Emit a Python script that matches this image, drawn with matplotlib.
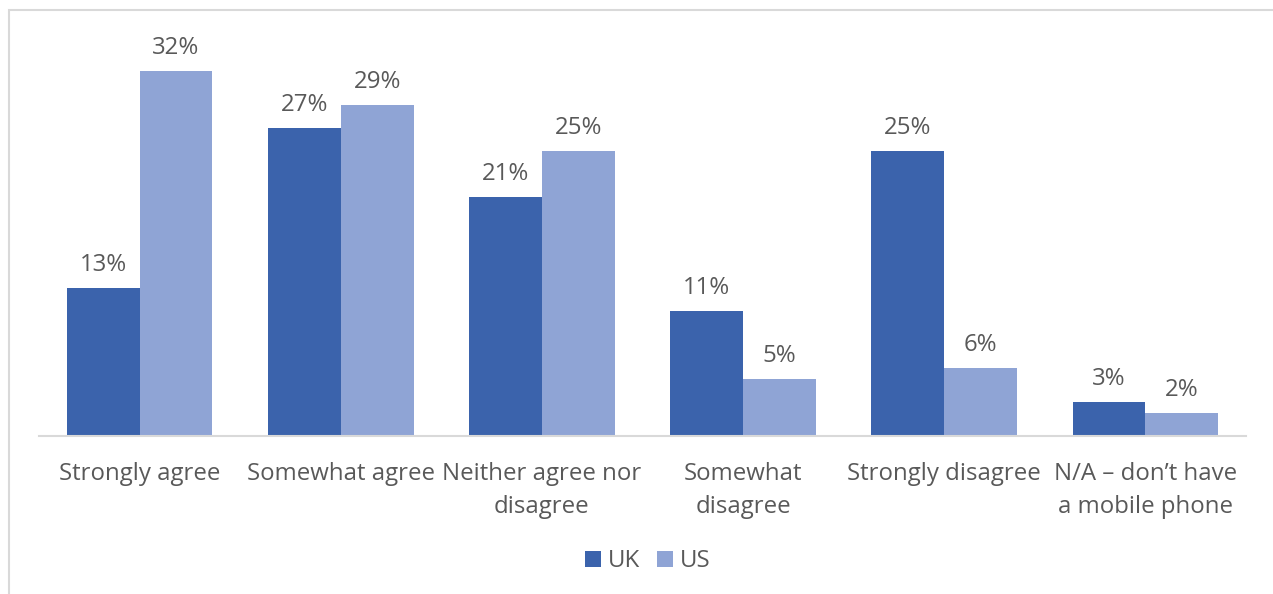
import numpy as np
import matplotlib.pyplot as plt
from matplotlib.patches import Rectangle

# ── Survey data ──
categories = ["Strongly agree", "Somewhat agree", "Neither agree nor\ndisagree",
              "Somewhat\ndisagree", "Strongly disagree", "N/A \u2013 don\u2019t have\na mobile phone"]
uk = [13, 27, 21, 11, 25, 3]
us = [32, 29, 25, 5, 6, 2]

UK_COLOR = "#3B63AC"
US_COLOR = "#8FA4D5"
TEXT_COLOR = "#595959"
FS = 17.3

plt.rcParams["font.family"] = ["Open Sans", "DejaVu Sans"]

W, H = 1273, 594
fig = plt.figure(figsize=(W / 100, H / 100), dpi=100)

# outer chart frame (only the top and left edges fall inside the canvas)
fig.patches.append(Rectangle((9 / W, -0.1), 1.2, (H - 10) / H + 0.1,
                             transform=fig.transFigure, fill=False,
                             edgecolor="#D9D9D9", lw=1.5, zorder=0))

ax = fig.add_axes([39 / W, (H - 436) / H, (1246 - 39) / W, (436 - 20) / H])

x = np.arange(len(categories))
bw = 0.362
b1 = ax.bar(x - bw / 2, uk, bw, color=UK_COLOR, label="UK")
b2 = ax.bar(x + bw / 2, us, bw, color=US_COLOR, label="US")

for bars, vals in ((b1, uk), (b2, us)):
    for b, v in zip(bars, vals):
        ax.annotate(f"{v}%", (b.get_x() + b.get_width() / 2, v),
                    xytext=(0, 8), textcoords="offset points",
                    ha="center", va="bottom", fontsize=FS, color=TEXT_COLOR)

ax.set_xlim(-0.5, len(categories) - 0.5)
ax.set_ylim(0, 36.5)
ax.set_yticks([])
ax.set_xticks(x)
ax.set_xticklabels(categories, fontsize=FS, color=TEXT_COLOR, linespacing=1.48)
ax.tick_params(axis="x", length=0, pad=19)
for s in ("top", "right", "left"):
    ax.spines[s].set_visible(False)
ax.spines["bottom"].set_color("#D9D9D9")
ax.spines["bottom"].set_linewidth(1.5)

leg = fig.legend(handles=[b1, b2], labels=["UK", "US"], loc="center",
                 bbox_to_anchor=(648 / W, 1 - 561 / H), ncol=2, frameon=False,
                 fontsize=FS, handlelength=0.65, handleheight=0.65,
                 handletextpad=0.3, columnspacing=0.7)
for t in leg.get_texts():
    t.set_color(TEXT_COLOR)

fig.savefig("out.png", dpi=100)
